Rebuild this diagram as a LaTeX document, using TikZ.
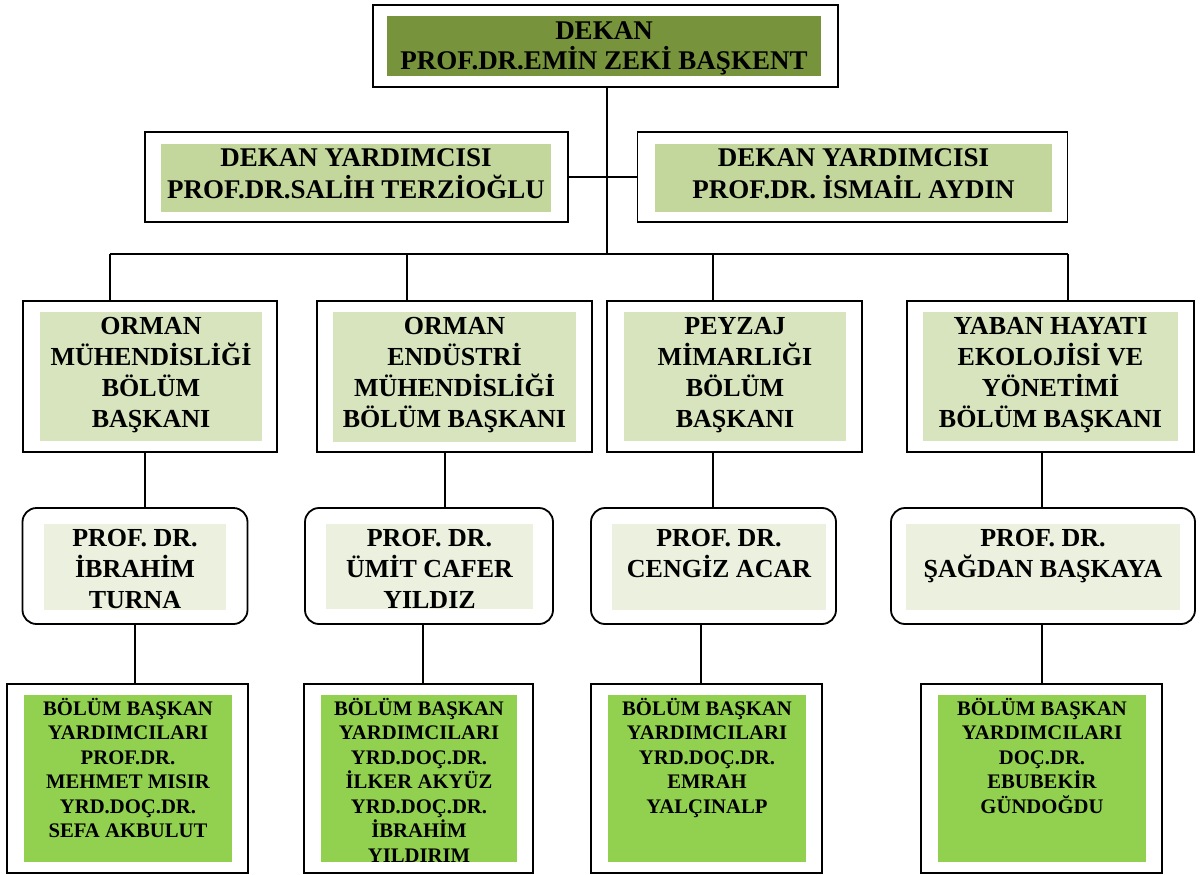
\documentclass[tikz,border=0pt]{standalone}
\usepackage{fontspec}
\setmainfont{Liberation Serif}
\usetikzlibrary{calc}

\definecolor{dekangreen}{HTML}{77933C}
\definecolor{yardgreen}{HTML}{C3D69B}
\definecolor{bolumgreen}{HTML}{D7E4BD}
\definecolor{profgreen}{HTML}{EBF1DE}
\definecolor{asstgreen}{HTML}{92D050}

\begin{document}
\begin{tikzpicture}[x=1pt, y=-1pt,
    framenode/.style={draw=black, line width=1.8pt, fill=white, inner sep=0pt},
    roundframe/.style={framenode, rounded corners=14pt},
    fillnode/.style={inner sep=0pt},
    bigtext/.style={align=center, inner sep=0pt, anchor=north, execute at begin node={\strut}, font=\bfseries\fontsize{27}{31}\selectfont},
    midtext/.style={bigtext, font=\bfseries\fontsize{26}{31}\selectfont},
    smalltext/.style={bigtext, font=\bfseries\fontsize{20.7}{24.5}\selectfont},
    link/.style={line width=1.4pt}
]
    \useasboundingbox (0, 0) rectangle (1200, 875);

    % Dekan
    % - [Box: Dekan]
    \node at (605.5, 46) [framenode, minimum width=465pt, minimum height=82pt](dekan){};
    \node at (604, 46) [fillnode, fill=dekangreen, minimum width=434pt, minimum height=60pt](dekan_f){};
    \node at ([yshift=-6pt] dekan_f.north) [bigtext, font=\bfseries\fontsize{27}{30}\selectfont](dekan_t){DEKAN\\PROF.DR.EMİN ZEKİ BAŞKENT};

    % Dekan Yardimcilari
    % - [Box: left]
    \node at (356.5, 177) [framenode, minimum width=423pt, minimum height=90pt](yard_l){};
    \node at (356, 178) [fillnode, fill=yardgreen, minimum width=390pt, minimum height=68pt](yard_l_f){};
    \node at ([yshift=-5pt] yard_l_f.north) [bigtext, font=\bfseries\fontsize{27}{32}\selectfont](yard_l_t){DEKAN YARDIMCISI\\PROF.DR.SALİH TERZİOĞLU};
    % - [Box: right]
    \node at (852.5, 177) [framenode, minimum width=430pt, minimum height=90pt](yard_r){};
    \node at (853.5, 178) [fillnode, fill=yardgreen, minimum width=397pt, minimum height=68pt](yard_r_f){};
    \node at ([yshift=-5pt] yard_r_f.north) [bigtext, font=\bfseries\fontsize{27}{32}\selectfont](yard_r_t){DEKAN YARDIMCISI\\PROF.DR. İSMAİL AYDIN};

    % Bolum Baskanlari
    \node at (150, 376.5) [framenode, minimum width=254pt, minimum height=151pt](bolum_1){};
    \node at (151, 376.5) [fillnode, fill=bolumgreen, minimum width=222pt, minimum height=129pt](bolum_1_f){};
    \node at ([yshift=-5pt] bolum_1_f.north) [midtext](bolum_1_t){ORMAN\\MÜHENDİSLİĞİ\\BÖLÜM\\BAŞKANI};

    \node at (454.5, 376.5) [framenode, minimum width=275pt, minimum height=151pt](bolum_2){};
    \node at (454.5, 377) [fillnode, fill=bolumgreen, minimum width=243pt, minimum height=130pt](bolum_2_f){};
    \node at ([yshift=-5pt] bolum_2_f.north) [midtext](bolum_2_t){ORMAN\\ENDÜSTRİ\\MÜHENDİSLİĞİ\\BÖLÜM BAŞKANI};

    \node at (734.5, 376.5) [framenode, minimum width=255pt, minimum height=151pt](bolum_3){};
    \node at (735, 376.5) [fillnode, fill=bolumgreen, minimum width=222pt, minimum height=129pt](bolum_3_f){};
    \node at ([yshift=-5pt] bolum_3_f.north) [midtext](bolum_3_t){PEYZAJ\\MİMARLIĞI\\BÖLÜM\\BAŞKANI};

    \node at (1050.5, 376.5) [framenode, minimum width=287pt, minimum height=151pt](bolum_4){};
    \node at (1050.5, 376.5) [fillnode, fill=bolumgreen, minimum width=255pt, minimum height=129pt](bolum_4_f){};
    \node at ([yshift=-5pt] bolum_4_f.north) [midtext](bolum_4_t){YABAN HAYATI\\EKOLOJİSİ VE\\YÖNETİMİ\\BÖLÜM BAŞKANI};

    % Profesorler (rounded)
    \node at (135, 566) [roundframe, minimum width=225pt, minimum height=116pt](prof_1){};
    \node at (135, 567) [fillnode, fill=profgreen, minimum width=182pt, minimum height=86pt](prof_1_f){};
    \node at ([yshift=-5pt] prof_1_f.north) [midtext](prof_1_t){PROF. DR.\\İBRAHİM\\TURNA};

    \node at (429, 566) [roundframe, minimum width=248pt, minimum height=116pt](prof_2){};
    \node at (429.5, 566.5) [fillnode, fill=profgreen, minimum width=207pt, minimum height=85pt](prof_2_f){};
    \node at ([yshift=-5pt] prof_2_f.north) [midtext](prof_2_t){PROF. DR.\\ÜMİT CAFER\\YILDIZ};

    \node at (713.5, 566) [roundframe, minimum width=245pt, minimum height=116pt](prof_3){};
    \node at (719, 567) [fillnode, fill=profgreen, minimum width=214pt, minimum height=86pt](prof_3_f){};
    \node at ([yshift=-5pt] prof_3_f.north) [midtext](prof_3_t){PROF. DR.\\CENGİZ ACAR};

    \node at (1043, 566) [roundframe, minimum width=304pt, minimum height=116pt](prof_4){};
    \node at (1043, 567) [fillnode, fill=profgreen, minimum width=274pt, minimum height=86pt](prof_4_f){};
    \node at ([yshift=-5pt] prof_4_f.north) [midtext](prof_4_t){PROF. DR.\\ŞAĞDAN BAŞKAYA};

    % Bolum Baskan Yardimcilari
    \node at (127.5, 778.5) [framenode, minimum width=241pt, minimum height=189pt](asst_1){};
    \node at (128, 778.5) [fillnode, fill=asstgreen, minimum width=208pt, minimum height=167pt](asst_1_f){};
    \node at ([yshift=-3pt] asst_1_f.north) [smalltext](asst_1_t){BÖLÜM BAŞKAN\\YARDIMCILARI\\PROF.DR.\\MEHMET MISIR\\YRD.DOÇ.DR.\\SEFA AKBULUT};

    \node at (418.5, 778.5) [framenode, minimum width=229pt, minimum height=189pt](asst_2){};
    \node at (419, 778.5) [fillnode, fill=asstgreen, minimum width=196pt, minimum height=167pt](asst_2_f){};
    \begin{scope}
        \clip (asst_2_f.north west) rectangle (asst_2_f.south east);
        \node at ([yshift=-3pt] asst_2_f.north) [smalltext](asst_2_t){BÖLÜM BAŞKAN\\YARDIMCILARI\\YRD.DOÇ.DR.\\İLKER AKYÜZ\\YRD.DOÇ.DR.\\İBRAHİM\\YILDIRIM};
    \end{scope}

    \node at (706.5, 778.5) [framenode, minimum width=231pt, minimum height=189pt](asst_3){};
    \node at (707, 778.5) [fillnode, fill=asstgreen, minimum width=198pt, minimum height=167pt](asst_3_f){};
    \node at ([yshift=-3pt] asst_3_f.north) [smalltext](asst_3_t){BÖLÜM BAŞKAN\\YARDIMCILARI\\YRD.DOÇ.DR.\\EMRAH\\YALÇINALP};

    \node at (1041.5, 778.5) [framenode, minimum width=241pt, minimum height=189pt](asst_4){};
    \node at (1042, 778.5) [fillnode, fill=asstgreen, minimum width=208pt, minimum height=167pt](asst_4_f){};
    \node at ([yshift=-3pt] asst_4_f.north) [smalltext](asst_4_t){BÖLÜM BAŞKAN\\YARDIMCILARI\\DOÇ.DR.\\EBUBEKİR\\GÜNDOĞDU};

    % Connectors
    % - the bus under the dekan yardimcilari
    \coordinate (bus_1) at (110, 254);
    \coordinate (bus_2) at (407, 254);
    \coordinate (bus_3) at (713, 254);
    \coordinate (bus_4) at (1068, 254);
    \coordinate (trunk) at ([xshift=1.5pt] dekan.south);
    \draw [link] (bus_1) -- (bus_4);
    \draw [link] (trunk) -- (trunk |- bus_1);
    \draw [link] (yard_l.east) -- (yard_l.east -| trunk);
    \draw [link] (yard_r.west) -- (yard_r.west -| trunk);
    % - drops to the bolum boxes
    \draw [link] (bus_1) -- (bus_1 |- bolum_1.north);
    \draw [link] (bus_2) -- (bus_2 |- bolum_2.north);
    \draw [link] (bus_3) -- (bus_3 |- bolum_3.north);
    \draw [link] (bus_4) -- (bus_4 |- bolum_4.north);
    % - bolum to prof
    \draw [link] ([xshift=-5pt] bolum_1.south) -- ([xshift=-5pt] bolum_1.south |- prof_1.north);
    \draw [link] ([xshift=-9.5pt] bolum_2.south) -- ([xshift=-9.5pt] bolum_2.south |- prof_2.north);
    \draw [link] ([xshift=-21.5pt] bolum_3.south) -- ([xshift=-21.5pt] bolum_3.south |- prof_3.north);
    \draw [link] ([xshift=-8.5pt] bolum_4.south) -- ([xshift=-8.5pt] bolum_4.south |- prof_4.north);
    % - prof to asst
    \draw [link] (prof_1.south) -- (prof_1.south |- asst_1.north);
    \draw [link] ([xshift=-6pt] prof_2.south) -- ([xshift=-6pt] prof_2.south |- asst_2.north);
    \draw [link] ([xshift=-12.5pt] prof_3.south) -- ([xshift=-12.5pt] prof_3.south |- asst_3.north);
    \draw [link] ([xshift=-1pt] prof_4.south) -- ([xshift=-1pt] prof_4.south |- asst_4.north);
\end{tikzpicture}
\end{document}
